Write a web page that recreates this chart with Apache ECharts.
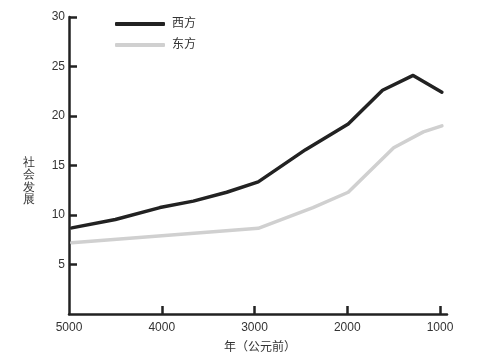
<!DOCTYPE html>
<html>
<head>
<meta charset="utf-8">
<script src="https://cdn.jsdelivr.net/npm/echarts@6/dist/echarts.min.js"></script>
<style>html,body{margin:0;padding:0;background:#fff}#c{width:482px;height:359px}</style>
</head>
<body>
<div id="c"></div>
<script>
var seriesNames = ['西方', '东方'];
var westYears = [4970, 4500, 4020, 3660, 3300, 2960, 2450, 1990, 1620, 1290, 980];
var westValues = [8.7, 9.55, 10.75, 11.4, 12.3, 13.35, 16.6, 19.2, 22.6, 24.1, 22.4];
var eastYears = [4970, 2960, 2370, 1990, 1500, 1180, 980];
var eastValues = [7.2, 8.65, 10.75, 12.3, 16.8, 18.4, 19.0];
var xTicks = [5000, 4000, 3000, 2000, 1000];
var yTicks = [5, 10, 15, 20, 25, 30];
var xTitle = '年（公元前）';
var yTitle = '社会发展';

function pairs(xs, ys) { return xs.map(function (x, i) { return [x, ys[i]]; }); }

var chart = echarts.init(document.getElementById('c'), null, { renderer: 'canvas' });
var font = '"Liberation Sans", "Noto Sans CJK SC", sans-serif';
chart.setOption({
  animation: false,
  backgroundColor: '#fff',
  textStyle: { fontFamily: font },
  grid: { left: 69, right: 35, top: 17, bottom: 44, containLabel: false },
  legend: {
    orient: 'vertical', left: 110, top: 13, itemWidth: 50, itemHeight: 4, itemGap: 9,
    icon: 'roundRect',
    textStyle: { fontSize: 12, color: '#333', fontFamily: font, padding: [0, 0, 0, 2] },
    data: seriesNames
  },
  xAxis: {
    type: 'value', inverse: true, min: 925, max: 5000,
    name: xTitle, nameLocation: 'middle', nameGap: 28,
    nameTextStyle: { fontSize: 12, color: '#333', fontFamily: font, padding: [0, 0, 0, 4] },
    axisLine: { show: true, lineStyle: { color: '#222', width: 2.5 } },
    axisTick: { show: true, inside: true, length: 8, customValues: xTicks.slice(1), lineStyle: { color: '#222', width: 2.5 } },
    axisLabel: { show: true, customValues: xTicks, margin: 8, fontSize: 12, color: '#333', fontFamily: font,
      formatter: function (v) { return String(v); } },
    splitLine: { show: false }
  },
  yAxis: {
    type: 'value', min: 0, max: 30, interval: 5,
    axisLine: { show: true, lineStyle: { color: '#222', width: 2.5 } },
    axisTick: { show: true, inside: true, length: 8, customValues: yTicks, lineStyle: { color: '#222', width: 2.5 } },
    axisLabel: { show: true, customValues: yTicks, margin: 4, fontSize: 12, color: '#333', fontFamily: font,
      formatter: function (v) { return String(v); } },
    splitLine: { show: false }
  },
  graphic: [{
    type: 'text', left: 23, top: 156,
    style: { text: yTitle.split('').join('\n'), fontSize: 12, lineHeight: 12.5, fill: '#333', font: '12px ' + font }
  }],
  series: [
    { name: seriesNames[0], type: 'line', data: pairs(westYears, westValues), symbol: 'none',
      itemStyle: { color: '#222' }, lineStyle: { color: '#222', width: 3.5, cap: 'round', join: 'round' } },
    { name: seriesNames[1], type: 'line', data: pairs(eastYears, eastValues), symbol: 'none',
      itemStyle: { color: '#d0d0d0' }, lineStyle: { color: '#d0d0d0', width: 3.5, cap: 'round', join: 'round' } }
  ]
});
</script>
</body>
</html>
